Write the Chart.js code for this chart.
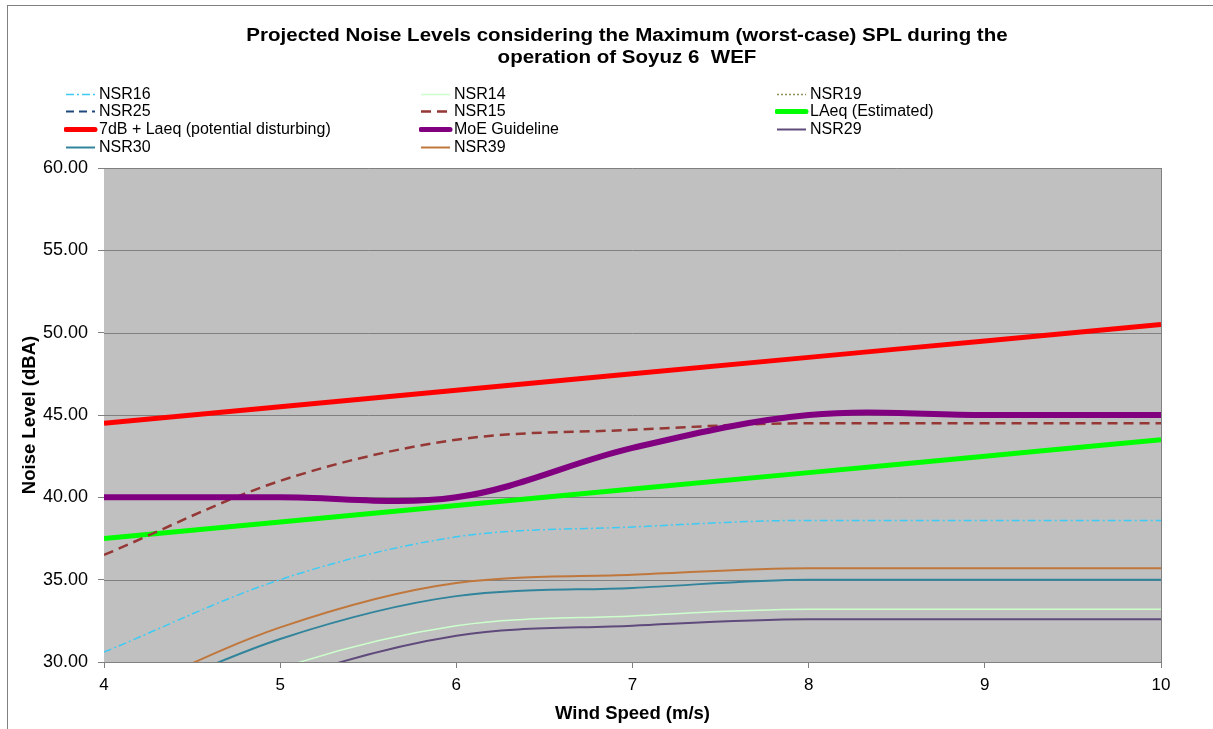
<!DOCTYPE html>
<html>
<head>
<meta charset="utf-8">
<script src="https://cdn.jsdelivr.net/npm/chart.js@4"></script>
<style>
  body { margin: 0; background: #fff; font-family: "Liberation Sans", Arial, sans-serif; }
  #wrap { position: relative; width: 1213px; height: 729px; overflow: hidden; }
  #frame { position: absolute; left: 7px; top: 5px; width: 1220px; height: 740px; border: 1px solid #808080; }
  #title { position: absolute; left: 0; width: 1254px; top: 24px; text-align: center; font-weight: bold; font-size: 18px; line-height: 22px; color: #000; transform: scaleX(1.14); transform-origin: 627px 0; }
  #legend { position: absolute; left: 0; top: 84px; font-size: 16px; color: #000; }
  .item { position: absolute; height: 18px; line-height: 18px; white-space: nowrap; }
  .item svg { position: absolute; left: 0; top: 0; }
  .item span { position: absolute; top: 0; }
  canvas { position: absolute; left: 0; top: 0; }
</style>
</head>
<body>
<div id="wrap">
  <div id="frame"></div>
  <canvas id="chart" width="1213" height="729"></canvas>
  <div id="title">Projected Noise Levels considering the Maximum (worst-case) SPL during the<br>operation of Soyuz 6&nbsp; WEF</div>
  <div id="legend"></div>
</div>
<script>
const windSpeed = [4, 5, 6, 7, 8, 9, 10];

const nsr16 = [30.6, 35.0, 37.6, 38.2, 38.6, 38.6, 38.6];
const nsr14 = [25.0, 29.6, 32.2, 32.8, 33.2, 33.2, 33.2];
const nsr19 = [22.0, 26.0, 28.0, 28.5, 28.8, 28.8, 28.8];
const nsr25 = [21.0, 25.0, 27.5, 28.0, 28.3, 28.3, 28.3];
const nsr15 = [36.5, 41.0, 43.5, 44.1, 44.5, 44.5, 44.5];
const laeq = [37.5, 38.5, 39.5, 40.5, 41.5, 42.5, 43.5];
const disturbing = [44.5, 45.5, 46.5, 47.5, 48.5, 49.5, 50.5];
const moeGuideline = [40.0, 40.0, 40.0, 43.0, 45.0, 45.0, 45.0];
const nsr29 = [24.0, 28.8, 31.6, 32.2, 32.6, 32.6, 32.6];
const nsr30 = [27.0, 31.4, 34.0, 34.5, 35.0, 35.0, 35.0];
const nsr39 = [27.5, 32.1, 34.8, 35.3, 35.7, 35.7, 35.7];

const yTicks = [30, 35, 40, 45, 50, 55, 60];

const pts = arr => arr.map((v, i) => ({ x: windSpeed[i], y: v }));

const series = [
  { label: 'NSR16', data: nsr16, color: '#3ccbf4', width: 1.5, dash: [8, 3, 2, 3] },
  { label: 'NSR14', data: nsr14, color: '#ccffcc', width: 1.5, dash: [] },
  { label: 'NSR19', data: nsr19, color: '#8f8f5a', width: 1.5, dash: [2, 2] },
  { label: 'NSR25', data: nsr25, color: '#1f497d', width: 2, dash: [8, 5] },
  { label: 'NSR15', data: nsr15, color: '#953735', width: 2.5, dash: [10, 6] },
  { label: 'LAeq (Estimated)', data: laeq, color: '#00ff00', width: 5, dash: [] },
  { label: '7dB + Laeq (potential disturbing)', data: disturbing, color: '#ff0000', width: 5, dash: [] },
  { label: 'MoE Guideline', data: moeGuideline, color: '#800080', width: 6, dash: [], order: 0, smooth: 'bezier' },
  { label: 'NSR29', data: nsr29, color: '#5f4a7b', width: 2, dash: [] },
  { label: 'NSR30', data: nsr30, color: '#31849b', width: 2, dash: [] },
  { label: 'NSR39', data: nsr39, color: '#c0773c', width: 2, dash: [] },
];

const plotBg = {
  id: 'plotBg',
  beforeDatasetsDraw(chart) {
    const { ctx, chartArea: a } = chart;
    ctx.save();
    ctx.fillStyle = '#c0c0c0';
    ctx.fillRect(a.left, a.top, a.right - a.left, a.bottom - a.top);
    ctx.strokeStyle = '#808080';
    ctx.lineWidth = 1;
    ctx.beginPath();
    ctx.moveTo(a.right + 0.5, a.top);
    ctx.lineTo(a.right + 0.5, a.bottom);
    ctx.stroke();
    // horizontal grid lines over the fill
    chart.scales.y.ticks.forEach(t => {
      const y = Math.round(chart.scales.y.getPixelForValue(t.value)) + 0.5;
      ctx.beginPath();
      ctx.moveTo(a.left, y);
      ctx.lineTo(a.right, y);
      ctx.stroke();
    });
    ctx.restore();
  }
};

new Chart(document.getElementById('chart'), {
  type: 'line',
  data: {
    datasets: series.map(s => ({
      label: s.label,
      data: pts(s.data),
      borderColor: s.color,
      backgroundColor: s.color,
      borderWidth: s.width,
      borderDash: s.dash,
      pointRadius: 0,
      tension: 0.35,
      cubicInterpolationMode: s.smooth === 'bezier' ? 'default' : 'monotone',
      fill: false,
      order: s.order ?? 1,
    })),
  },
  options: {
    responsive: false,
    animation: false,
    layout: { padding: { top: 168, right: 52, left: 0, bottom: 0 } },
    plugins: {
      legend: { display: false },
      title: { display: false },
      tooltip: { enabled: false },
    },
    scales: {
      x: {
        type: 'linear',
        min: 4,
        max: 10,
        ticks: { stepSize: 1, color: '#000', padding: 7, font: { size: 17, family: 'Liberation Sans' } },
        grid: { drawOnChartArea: false, color: '#808080', tickLength: 6 },
        border: { color: '#808080' },
        title: { display: true, text: 'Wind Speed (m/s)', color: '#000', font: { size: 18.5, weight: 'bold', family: 'Liberation Sans' }, padding: { top: 5, bottom: 4 } },
        afterFit: s => { s.height = 67; },
      },
      y: {
        min: 30,
        max: 60,
        afterBuildTicks: s => { s.ticks = yTicks.map(v => ({ value: v })); },
        ticks: { color: '#000', padding: 10, font: { size: 18, family: 'Liberation Sans' }, callback: v => Number(v).toFixed(2) },
        grid: { drawOnChartArea: false, color: '#808080', tickLength: 6 },
        border: { color: '#808080' },
        title: { display: true, text: 'Noise Level (dBA)', color: '#000', font: { size: 18.5, weight: 'bold', family: 'Liberation Sans' }, padding: { top: 19, bottom: 0 } },
        afterFit: s => { s.width = 104; },
      },
    },
  },
  plugins: [plotBg],
});

// three-column legend, filled row by row
const legendCols = [64, 419, 775];
const legendRows = [1, 18, 36, 54];
const legendEl = document.getElementById('legend');
series.forEach((s, i) => {
  const col = i % 3, row = Math.floor(i / 3);
  const item = document.createElement('div');
  item.className = 'item';
  item.style.left = legendCols[col] + 'px';
  item.style.top = legendRows[row] + 'px';
  const lw = Math.min(s.width, 5);
  item.innerHTML =
    `<svg width="34" height="18"><line x1="2" y1="9.5" x2="31" y2="9.5" stroke="${s.color}" stroke-width="${lw}" ` +
    `stroke-linecap="${s.width >= 5 ? 'round' : 'butt'}" stroke-dasharray="${s.dash.join(' ')}"/></svg>` +
    `<span style="left:35px">${s.label}</span>`;
  legendEl.appendChild(item);
});
</script>
</body>
</html>
